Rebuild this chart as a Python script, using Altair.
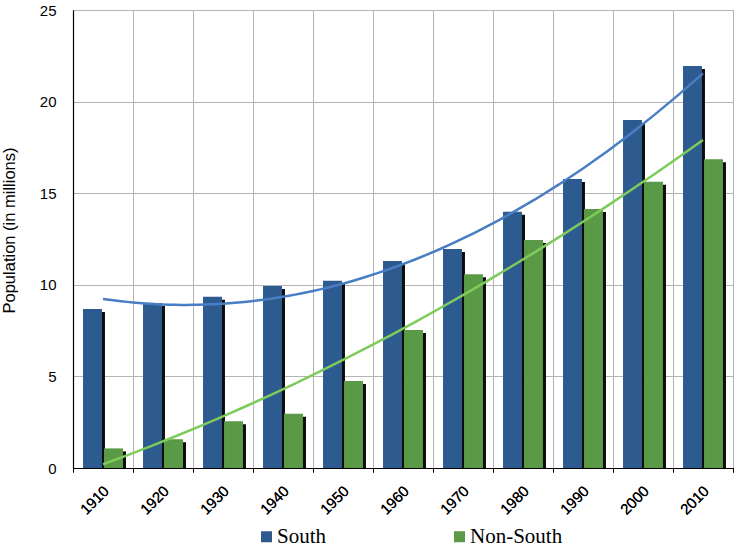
import altair as alt
import pandas as pd

# Population by decade, in millions
years = [1910, 1920, 1930, 1940, 1950, 1960, 1970, 1980, 1990, 2000, 2010]
south = [8.68, 9.0, 9.35, 9.93, 10.22, 11.3, 11.95, 13.99, 15.77, 19.0, 21.94]
non_south = [1.07, 1.57, 2.55, 2.96, 4.75, 7.53, 10.57, 12.45, 14.14, 15.63, 16.85]
series_names = ["South", "Non-South"]

df = pd.DataFrame(
    {
        "year": years * 2,
        "series": [series_names[0]] * len(years) + [series_names[1]] * len(years),
        "value": south + non_south,
    }
)

# decade boundaries for the vertical gridlines
boundaries = [y - 5 for y in years] + [years[-1] + 5]

BAR_BLUE = "#2d5a8f"
BAR_GREEN = "#5a9a46"
LINE_BLUE = "#4a7ec4"
LINE_GREEN = "#7dcc5a"
SANS = "Liberation Sans, Arial, sans-serif"
SERIF = "Liberation Serif, Times New Roman, serif"

x_scale = alt.Scale(domain=[boundaries[0], boundaries[-1]], nice=False, zero=False)
y_scale = alt.Scale(domain=[0, 25], nice=False)

base = alt.Chart(df).transform_calculate(
    x0="datum.series == 'South' ? datum.year - 3.33 : datum.year + 0.17",
    x1="datum.series == 'South' ? datum.year - 0.17 : datum.year + 3.33",
)

grid_axis = alt.Axis(
    values=boundaries,
    grid=True,
    gridColor="#b4b4b4",
    gridWidth=1,
    labels=False,
    ticks=True,
    tickSize=4,
    tickColor="#000000",
    domain=True,
    domainColor="#000000",
    domainWidth=1.2,
    title=None,
    orient="bottom",
)

y_axis = alt.Axis(
    values=[0, 5, 10, 15, 20, 25],
    grid=True,
    gridColor="#b4b4b4",
    gridWidth=1,
    ticks=False,
    labelPadding=17,
    labelFont=SANS,
    labelFontSize=15,
    labelColor="#000000",
    domainColor="#000000",
    domainWidth=1.2,
    title="Population (in millions)",
    titleFont=SANS,
    titleFontSize=16.5,
    titleFontWeight="normal",
    titleColor="#000000",
    titleAngle=270,
    titleAlign="center",
    titleBaseline="bottom",
    titleX=-56,
    titleY=220,
)

shadow = base.mark_bar(
    color="#000000", xOffset=3, x2Offset=3, yOffset=3, opacity=0.95
).encode(
    x=alt.X("x0:Q", scale=x_scale, axis=grid_axis),
    x2="x1:Q",
    y=alt.Y("value:Q", scale=y_scale, axis=y_axis),
    y2=alt.datum(0),
)

bars = base.mark_bar().encode(
    x=alt.X("x0:Q", scale=x_scale, axis=grid_axis),
    x2="x1:Q",
    y=alt.Y("value:Q", scale=y_scale, axis=y_axis),
    y2=alt.datum(0),
    color=alt.Color(
        "series:N",
        scale=alt.Scale(domain=series_names, range=[BAR_BLUE, BAR_GREEN]),
        legend=alt.Legend(
            title=None,
            orient="none",
            legendX=183,
            legendY=516,
            direction="horizontal",
            columns=2,
            columnPadding=122,
            symbolType="square",
            symbolSize=121,
            symbolStrokeWidth=0,
            labelFont=SERIF,
            labelFontSize=21,
            labelColor="#000000",
            labelOffset=0,
            labelLimit=300,
            padding=0,
        ),
    ),
)

label_axis = alt.Axis(
    values=years,
    grid=False,
    ticks=False,
    domain=False,
    labelAngle=-45,
    labelAlign="right",
    labelBaseline="top",
    labelPadding=15,
    labelOffset=-2,
    labelFont=SANS,
    labelFontSize=15,
    labelFontWeight="normal",
    labelColor="#000000",
    format="d",
    title=None,
    orient="bottom",
)


def trend(name, color):
    return (
        alt.Chart(df)
        .transform_filter(alt.datum.series == name)
        .transform_regression("year", "value", method="poly", order=2)
        .mark_line(color=color, strokeWidth=2.5)
        .encode(
            x=alt.X("year:Q", scale=x_scale, axis=label_axis),
            y=alt.Y("value:Q", scale=y_scale, axis=y_axis),
        )
    )


chart = (
    alt.layer(shadow, bars, trend("South", LINE_BLUE), trend("Non-South", LINE_GREEN))
    .resolve_axis(x="independent")
    .properties(
        width=660,
        height=458,
        autosize=alt.AutoSizeParams(type="none"),
        padding={"left": 73, "top": 10, "right": 7, "bottom": 80},
    )
    .configure_view(stroke="#b4b4b4", strokeWidth=1)
    .configure_legend(labelFont=SERIF)
    .configure(background="#ffffff")
)

chart.save("out.html", embed_options={"renderer": "svg", "actions": False})
